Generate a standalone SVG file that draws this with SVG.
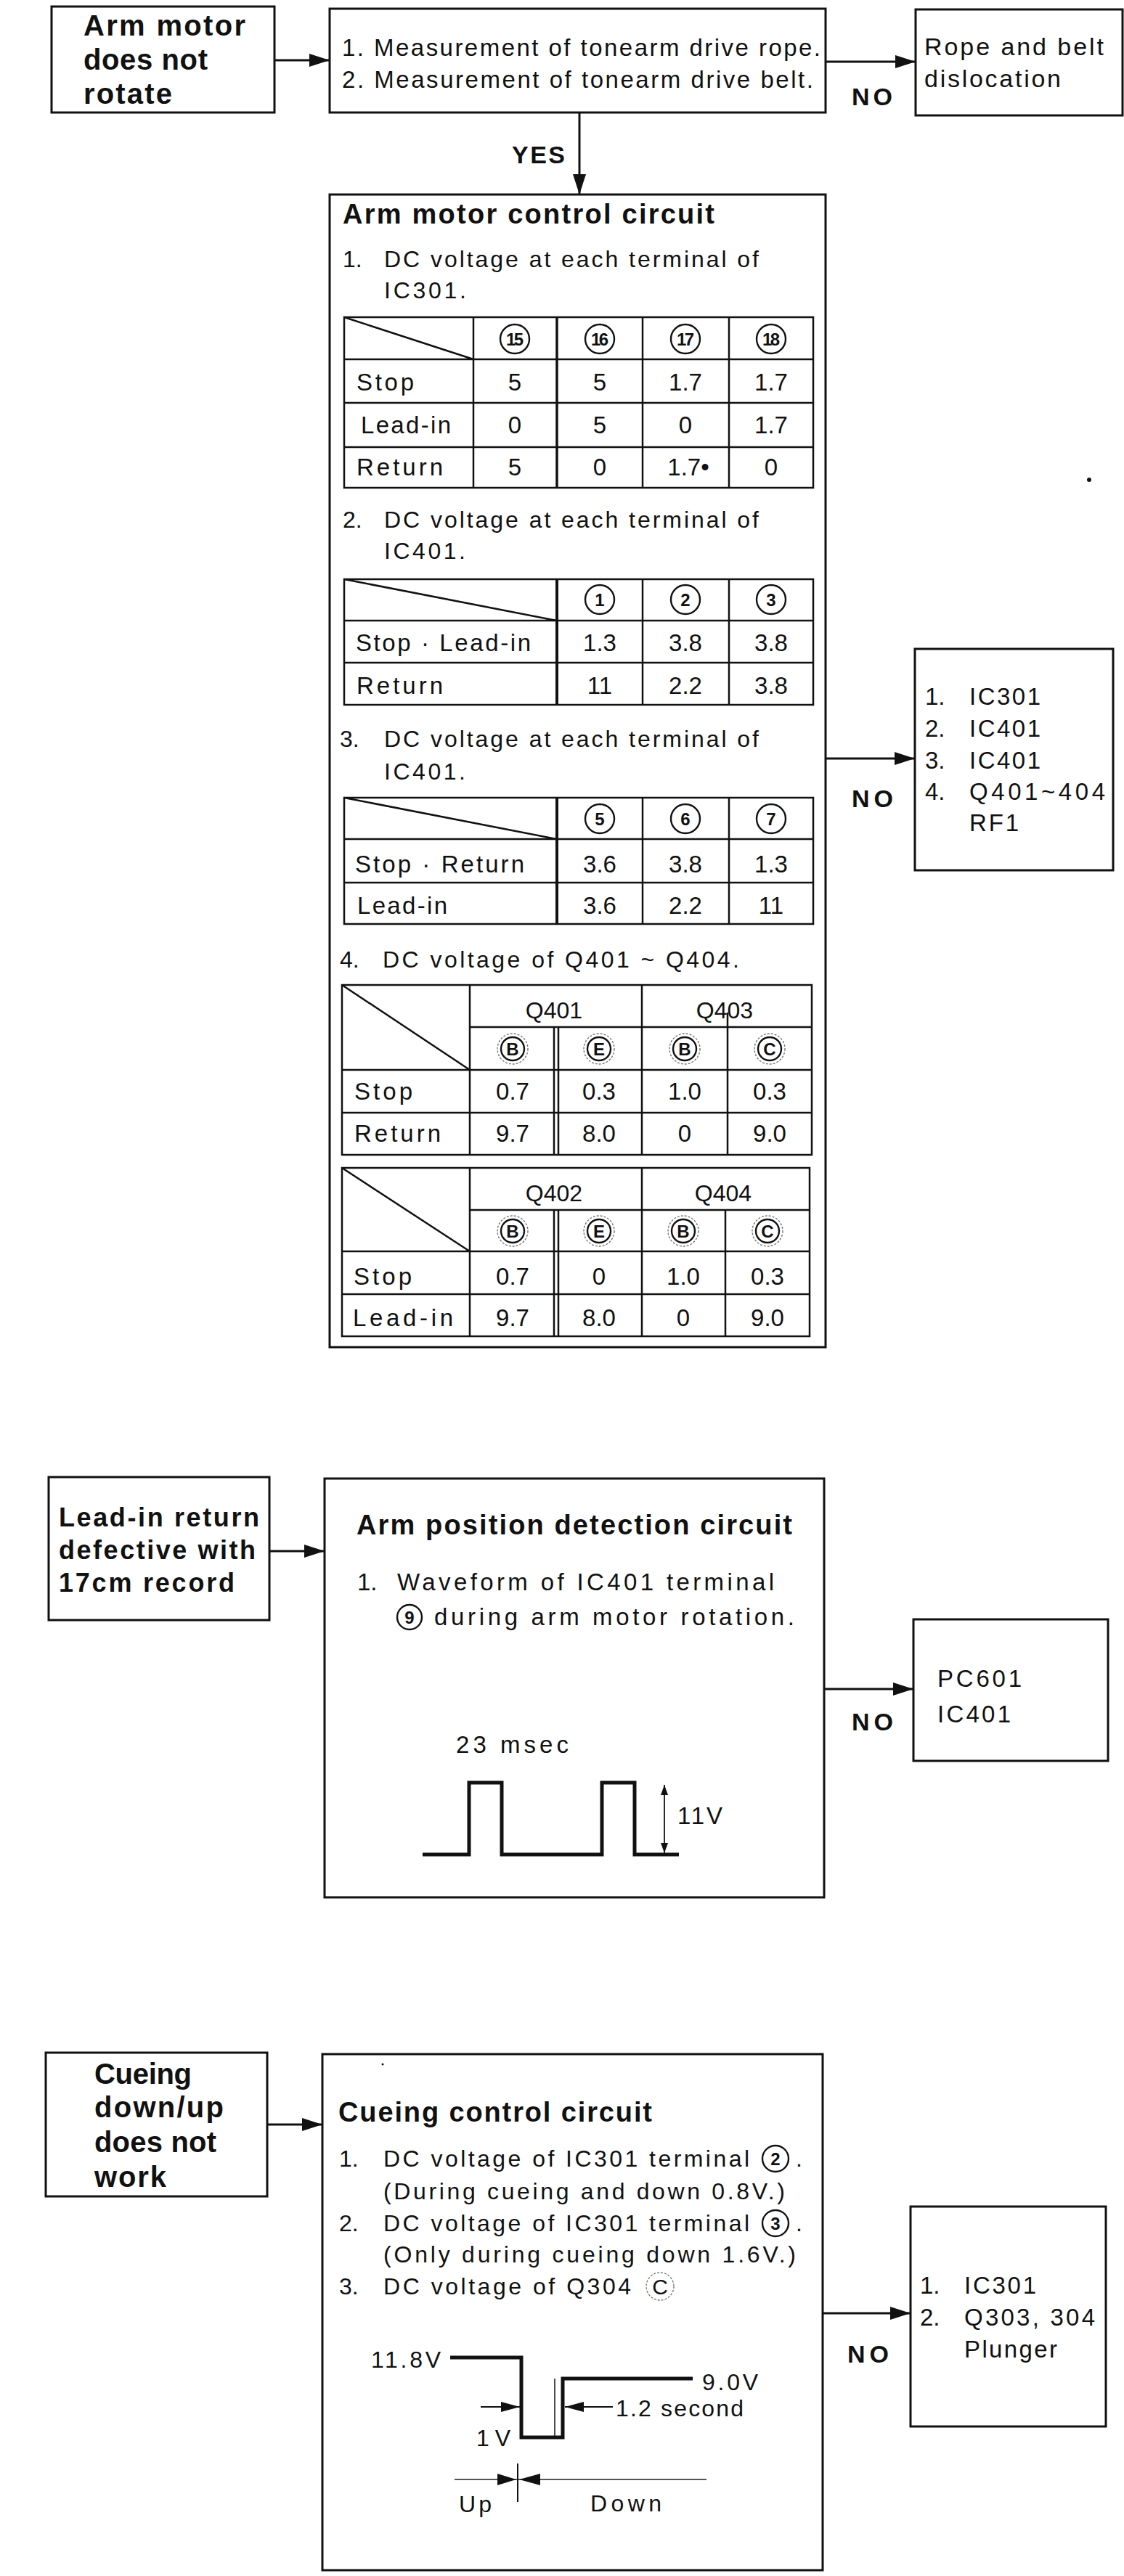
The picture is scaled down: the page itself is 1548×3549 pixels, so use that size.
<svg xmlns="http://www.w3.org/2000/svg" width="1548" height="3549" viewBox="0 0 1548 3549">
<style>
text{font-family:"Liberation Sans",Arial,sans-serif;fill:#111}
.b{font-weight:bold}
.f40{font-size:40px}
.f38{font-size:38px}
.f36{font-size:36px}
.f34{font-size:34px}
.f33{font-size:33px}
.f32{font-size:32px}
.f30{font-size:30px}
.f24{font-size:24px}
.c{text-anchor:middle}
.box{fill:#fff;stroke:#111;stroke-width:3}
.tbl{fill:none;stroke:#111;stroke-width:2.5}
.conn{fill:none;stroke:#111;stroke-width:3}
.thin{fill:none;stroke:#111;stroke-width:1.8}
.wave{fill:none;stroke:#111;stroke-width:5;stroke-linejoin:miter}
.circ{fill:none;stroke:#111;stroke-width:2.4}
.ring{fill:none;stroke:#777;stroke-width:1.4;stroke-dasharray:3 2}
</style>
<defs>
<marker id="ah" markerWidth="28" markerHeight="18" refX="28" refY="9" orient="auto" markerUnits="userSpaceOnUse"><path d="M0,0 L28,9 L0,18 z" fill="#111"/></marker>
<marker id="sa" markerWidth="14" markerHeight="10" refX="14" refY="5" orient="auto-start-reverse" markerUnits="userSpaceOnUse"><path d="M0,0 L14,5 L0,10 z" fill="#111"/></marker>
<marker id="ma" markerWidth="26" markerHeight="14" refX="26" refY="7" orient="auto" markerUnits="userSpaceOnUse"><path d="M0,0 L26,7 L0,14 z" fill="#111"/></marker>
</defs>
<rect width="1548" height="3549" fill="#fff"/>

<!-- Section 1 -->
<g id="n-arm-motor">
<rect class="box" x="71" y="9" width="307" height="146"/>
<text class="b f40" x="115" y="49" textLength="223">Arm motor</text>
<text class="b f40" x="115" y="96" textLength="171">does not</text>
<text class="b f40" x="115" y="143" textLength="122">rotate</text>
</g>

<g id="n-measure">
<rect class="box" x="454" y="12" width="683" height="143"/>
<text class="f33" x="471" y="77" textLength="659">1. Measurement of tonearm drive rope.</text>
<text class="f33" x="471" y="121" textLength="649">2. Measurement of tonearm drive belt.</text>
</g>

<g id="n-rope">
<rect class="box" x="1261" y="13" width="285" height="146"/>
<text class="f34" x="1273" y="76" textLength="247">Rope and belt</text>
<text class="f34" x="1273" y="120" textLength="188">dislocation</text>
</g>

<g id="n-arm-control">
<rect class="box" x="454" y="268" width="683" height="1588"/>
<text class="b f38" x="472" y="308" textLength="512">Arm motor control circuit</text>
<text class="f32" x="472" y="368">1.</text>
<text class="f32" x="529" y="368" textLength="516">DC voltage at each terminal of</text>
<text class="f32" x="529" y="411" textLength="113">IC301.</text>

<!-- table 1 -->
<rect class="tbl" x="474" y="437" width="646" height="235"/>
<path class="tbl" d="M474,495 H1120 M474,555 H1120 M474,616 H1120 M652,437 V672 M885,437 V672 M1004,437 V672 M474,437 L652,495"/>
<path class="tbl" style="stroke-width:3.5" d="M767,437 V672"/>
<g>
<circle class="circ" cx="709" cy="467" r="20"/><text class="f24 c b" x="709" y="476" textLength="24">15</text>
<circle class="circ" cx="826" cy="467" r="20"/><text class="f24 c b" x="826" y="476" textLength="24">16</text>
<circle class="circ" cx="944" cy="467" r="20"/><text class="f24 c b" x="944" y="476" textLength="24">17</text>
<circle class="circ" cx="1062" cy="467" r="20"/><text class="f24 c b" x="1062" y="476" textLength="24">18</text>
</g>
<text class="f33" x="491" y="538" textLength="79">Stop</text>
<text class="f33 c" x="709" y="538">5</text><text class="f33 c" x="826" y="538">5</text><text class="f33 c" x="944" y="538">1.7</text><text class="f33 c" x="1062" y="538">1.7</text>
<text class="f33" x="497" y="597" textLength="124">Lead-in</text>
<text class="f33 c" x="709" y="597">0</text><text class="f33 c" x="826" y="597">5</text><text class="f33 c" x="944" y="597">0</text><text class="f33 c" x="1062" y="597">1.7</text>
<text class="f33" x="491" y="655" textLength="119">Return</text>
<text class="f33 c" x="709" y="655">5</text><text class="f33 c" x="826" y="655">0</text><text class="f33 c" x="948" y="655">1.7•</text><text class="f33 c" x="1062" y="655">0</text>

<text class="f32" x="472" y="727">2.</text>
<text class="f32" x="529" y="727" textLength="516">DC voltage at each terminal of</text>
<text class="f32" x="529" y="770" textLength="112">IC401.</text>

<!-- table 2 -->
<rect class="tbl" x="474" y="798" width="646" height="173"/>
<path class="tbl" d="M474,855 H1120 M474,913 H1120 M885,798 V971 M1004,798 V971 M474,798 L767,855"/>
<path class="tbl" style="stroke-width:4" d="M767,798 V971"/>
<circle class="circ" cx="826" cy="826" r="20"/><text class="f24 c b" x="826" y="835">1</text>
<circle class="circ" cx="944" cy="826" r="20"/><text class="f24 c b" x="944" y="835">2</text>
<circle class="circ" cx="1062" cy="826" r="20"/><text class="f24 c b" x="1062" y="835">3</text>
<text class="f33" x="490" y="897" textLength="241">Stop · Lead-in</text>
<text class="f33 c" x="826" y="897">1.3</text><text class="f33 c" x="944" y="897">3.8</text><text class="f33 c" x="1062" y="897">3.8</text>
<text class="f33" x="491" y="956" textLength="119">Return</text>
<text class="f33 c" x="826" y="956">11</text><text class="f33 c" x="944" y="956">2.2</text><text class="f33 c" x="1062" y="956">3.8</text>

<text class="f32" x="468" y="1029">3.</text>
<text class="f32" x="529" y="1029" textLength="516">DC voltage at each terminal of</text>
<text class="f32" x="529" y="1074" textLength="112">IC401.</text>

<!-- table 3 -->
<rect class="tbl" x="474" y="1099" width="646" height="174"/>
<path class="tbl" d="M474,1156 H1120 M474,1216 H1120 M885,1099 V1273 M1004,1099 V1273 M474,1099 L767,1156"/>
<path class="tbl" style="stroke-width:4" d="M767,1099 V1273"/>
<circle class="circ" cx="826" cy="1128" r="20"/><text class="f24 c b" x="826" y="1137">5</text>
<circle class="circ" cx="944" cy="1128" r="20"/><text class="f24 c b" x="944" y="1137">6</text>
<circle class="circ" cx="1062" cy="1128" r="20"/><text class="f24 c b" x="1062" y="1137">7</text>
<text class="f33" x="489" y="1202" textLength="233">Stop · Return</text>
<text class="f33 c" x="826" y="1202">3.6</text><text class="f33 c" x="944" y="1202">3.8</text><text class="f33 c" x="1062" y="1202">1.3</text>
<text class="f33" x="492" y="1259" textLength="124">Lead-in</text>
<text class="f33 c" x="826" y="1259">3.6</text><text class="f33 c" x="944" y="1259">2.2</text><text class="f33 c" x="1062" y="1259">11</text>

<text class="f32" x="468" y="1333">4.</text>
<text class="f32" x="527" y="1333" textLength="491">DC voltage of  Q401 ~ Q404.</text>

<!-- table 4a -->
<rect class="tbl" x="471" y="1357" width="647" height="234"/>
<path class="tbl" d="M647,1415 H1118 M471,1474 H1118 M471,1533 H1118 M647,1357 V1591 M884,1357 V1591 M763,1415 V1591 M769,1415 V1591 M1002,1395 V1591 M471,1357 L647,1474"/>
<text class="f32 c" x="763" y="1403">Q401</text>
<text class="f32 c" x="998" y="1403">Q403</text>
<circle class="ring" cx="706" cy="1445" r="21"/><circle class="circ" cx="706" cy="1445" r="16"/><text class="f24 c b" x="706" y="1454">B</text>
<circle class="ring" cx="825" cy="1445" r="21"/><circle class="circ" cx="825" cy="1445" r="16"/><text class="f24 c b" x="825" y="1454">E</text>
<circle class="ring" cx="943" cy="1445" r="21"/><circle class="circ" cx="943" cy="1445" r="16"/><text class="f24 c b" x="943" y="1454">B</text>
<circle class="ring" cx="1060" cy="1445" r="21"/><circle class="circ" cx="1060" cy="1445" r="16"/><text class="f24 c b" x="1060" y="1454">C</text>
<text class="f33" x="488" y="1515" textLength="80">Stop</text>
<text class="f33 c" x="706" y="1515">0.7</text><text class="f33 c" x="825" y="1515">0.3</text><text class="f33 c" x="943" y="1515">1.0</text><text class="f33 c" x="1060" y="1515">0.3</text>
<text class="f33" x="488" y="1573" textLength="119">Return</text>
<text class="f33 c" x="706" y="1573">9.7</text><text class="f33 c" x="825" y="1573">8.0</text><text class="f33 c" x="943" y="1573">0</text><text class="f33 c" x="1060" y="1573">9.0</text>

<!-- table 4b -->
<rect class="tbl" x="471" y="1609" width="644" height="232"/>
<path class="tbl" d="M647,1667 H1115 M471,1724 H1115 M471,1783 H1115 M647,1609 V1841 M884,1609 V1841 M763,1667 V1841 M769,1667 V1841 M999,1667 V1841 M471,1609 L647,1724"/>
<text class="f32 c" x="763" y="1655">Q402</text>
<text class="f32 c" x="996" y="1655">Q404</text>
<circle class="ring" cx="706" cy="1696" r="21"/><circle class="circ" cx="706" cy="1696" r="16"/><text class="f24 c b" x="706" y="1705">B</text>
<circle class="ring" cx="825" cy="1696" r="21"/><circle class="circ" cx="825" cy="1696" r="16"/><text class="f24 c b" x="825" y="1705">E</text>
<circle class="ring" cx="941" cy="1696" r="21"/><circle class="circ" cx="941" cy="1696" r="16"/><text class="f24 c b" x="941" y="1705">B</text>
<circle class="ring" cx="1057" cy="1696" r="21"/><circle class="circ" cx="1057" cy="1696" r="16"/><text class="f24 c b" x="1057" y="1705">C</text>
<text class="f33" x="487" y="1770" textLength="80">Stop</text>
<text class="f33 c" x="706" y="1770">0.7</text><text class="f33 c" x="825" y="1770">0</text><text class="f33 c" x="941" y="1770">1.0</text><text class="f33 c" x="1057" y="1770">0.3</text>
<text class="f33" x="486" y="1827" textLength="138">Lead-in</text>
<text class="f33 c" x="706" y="1827">9.7</text><text class="f33 c" x="825" y="1827">8.0</text><text class="f33 c" x="941" y="1827">0</text><text class="f33 c" x="1057" y="1827">9.0</text>
</g>

<g id="n-ic-list">
<rect class="box" x="1260" y="894" width="273" height="305"/>
<text class="f33" x="1274" y="971">1.</text><text class="f33" x="1335" y="971" textLength="98">IC301</text>
<text class="f33" x="1274" y="1015">2.</text><text class="f33" x="1335" y="1015" textLength="98">IC401</text>
<text class="f33" x="1274" y="1059">3.</text><text class="f33" x="1335" y="1059" textLength="98">IC401</text>
<text class="f33" x="1274" y="1102">4.</text><text class="f33" x="1335" y="1102" textLength="187">Q401~404</text>
<text class="f33" x="1335" y="1145" textLength="68">RF1</text>
</g>
<circle cx="1500" cy="661" r="3" fill="#111"/>

<!-- Section 2 -->
<g id="n-lead-in">
<rect class="box" x="67" y="2035" width="304" height="197"/>
<text class="b f36" x="81" y="2103" textLength="276">Lead-in return</text>
<text class="b f36" x="81" y="2148" textLength="271">defective with</text>
<text class="b f36" x="81" y="2193" textLength="242">17cm record</text>
</g>

<g id="n-position">
<rect class="box" x="447" y="2037" width="688" height="577"/>
<text class="b f38" x="491" y="2114" textLength="600">Arm position detection circuit</text>
<text class="f33" x="492" y="2191">1.</text>
<text class="f33" x="547" y="2191" textLength="519">Waveform of IC401 terminal</text>
<circle class="circ" cx="564" cy="2228" r="17"/><text class="f24 c b" x="564" y="2237">9</text>
<text class="f33" x="598" y="2239" textLength="496">during arm motor rotation.</text>
<text class="f33" x="628" y="2415" textLength="155">23 msec</text>
<path class="wave" d="M582,2555 H646 V2456 H691 V2555 H829 V2456 H874 V2555 H935"/>
<line class="thin" x1="915" y1="2459" x2="915" y2="2553" marker-start="url(#sa)" marker-end="url(#sa)"/>
<text class="f33" x="933" y="2513" textLength="62">11V</text>
</g>

<g id="n-pc601">
<rect class="box" x="1258" y="2231" width="268" height="195"/>
<text class="f33" x="1291" y="2324" textLength="116">PC601</text>
<text class="f33" x="1291" y="2373" textLength="101">IC401</text>
</g>

<!-- Section 3 -->
<g id="n-cueing">
<rect class="box" x="63" y="2828" width="305" height="198"/>
<text class="b f40" x="130" y="2871" textLength="134">Cueing</text>
<text class="b f40" x="130" y="2917" textLength="178">down/up</text>
<text class="b f40" x="130" y="2965" textLength="168">does not</text>
<text class="b f40" x="130" y="3013" textLength="99">work</text>
</g>

<g id="n-cueing-control">
<rect class="box" x="444" y="2830" width="689" height="711"/>
<circle cx="527" cy="2844" r="1.5" fill="#111"/>
<text class="b f38" x="466" y="2923" textLength="432">Cueing control circuit</text>
<text class="f32" x="467" y="2985">1.</text>
<text class="f32" x="528" y="2985" textLength="504">DC voltage of  IC301 terminal</text>
<circle class="circ" cx="1068" cy="2974" r="18"/><text class="f24 c b" x="1068" y="2983">2</text>
<text class="f32" x="1096" y="2985">.</text>
<text class="f32" x="528" y="3030" textLength="553">(During cueing and down 0.8V.)</text>
<text class="f32" x="467" y="3074">2.</text>
<text class="f32" x="528" y="3074" textLength="504">DC voltage of  IC301 terminal</text>
<circle class="circ" cx="1068" cy="3063" r="18"/><text class="f24 c b" x="1068" y="3072">3</text>
<text class="f32" x="1096" y="3074">.</text>
<text class="f32" x="528" y="3117" textLength="568">(Only during cueing down 1.6V.)</text>
<text class="f32" x="467" y="3161">3.</text>
<text class="f32" x="528" y="3161" textLength="341">DC voltage of  Q304</text>
<circle class="ring" cx="909" cy="3150" r="19"/>
<text class="f30 c" x="909" y="3161">C</text>

<path class="wave" d="M620,3248 H718 V3358 H775 V3277 H954"/>
<line x1="764" y1="3277" x2="764" y2="3358" stroke="#111" stroke-width="1.5"/>
<text class="f32" x="511" y="3262" textLength="96">11.8V</text>
<text class="f32" x="967" y="3293" textLength="77">9.0V</text>
<line class="thin" x1="662" y1="3316" x2="716" y2="3316" marker-end="url(#ma)"/>
<line class="thin" x1="844" y1="3316" x2="778" y2="3316" marker-end="url(#ma)"/>
<text class="f32" x="848" y="3329" textLength="176">1.2 second</text>
<text class="f32" x="656" y="3370" textLength="47">1V</text>
<line x1="626" y1="3416" x2="973" y2="3416" stroke="#555" stroke-width="2"/>
<line x1="713" y1="3394" x2="713" y2="3447" stroke="#111" stroke-width="2"/>
<path d="M685,3408 L711,3416 L685,3424 z M744,3408 L715,3416 L744,3424 z" fill="#111"/>
<text class="f32" x="632" y="3461" textLength="45">Up</text>
<text class="f32" x="813" y="3460" textLength="98">Down</text>
</g>

<g id="n-cue-list">
<rect class="box" x="1254" y="3040" width="269" height="303"/>
<text class="f33" x="1267" y="3160">1.</text><text class="f33" x="1328" y="3160" textLength="99">IC301</text>
<text class="f33" x="1267" y="3204">2.</text><text class="f33" x="1328" y="3204" textLength="180">Q303, 304</text>
<text class="f33" x="1328" y="3248" textLength="128">Plunger</text>
</g>

<!-- Connectors -->
<g id="connectors">
<line class="conn" x1="378" y1="83" x2="454" y2="83" marker-end="url(#ah)"/>
<line class="conn" x1="1137" y1="85" x2="1261" y2="85" marker-end="url(#ah)"/>
<text class="b f34" x="1173" y="145" textLength="56">NO</text>
<line class="conn" x1="798" y1="155" x2="798" y2="268" marker-end="url(#ah)"/>
<text class="b f34" x="705" y="225" textLength="73">YES</text>
<line class="conn" x1="1137" y1="1045" x2="1260" y2="1045" marker-end="url(#ah)"/>
<text class="b f34" x="1173" y="1112" textLength="57">NO</text>
<line class="conn" x1="371" y1="2137" x2="447" y2="2137" marker-end="url(#ah)"/>
<line class="conn" x1="1135" y1="2327" x2="1258" y2="2327" marker-end="url(#ah)"/>
<text class="b f34" x="1173" y="2384" textLength="57">NO</text>
<line class="conn" x1="368" y1="2927" x2="444" y2="2927" marker-end="url(#ah)"/>
<line class="conn" x1="1133" y1="3187" x2="1254" y2="3187" marker-end="url(#ah)"/>
<text class="b f34" x="1167" y="3255" textLength="57">NO</text>
</g>
</svg>
